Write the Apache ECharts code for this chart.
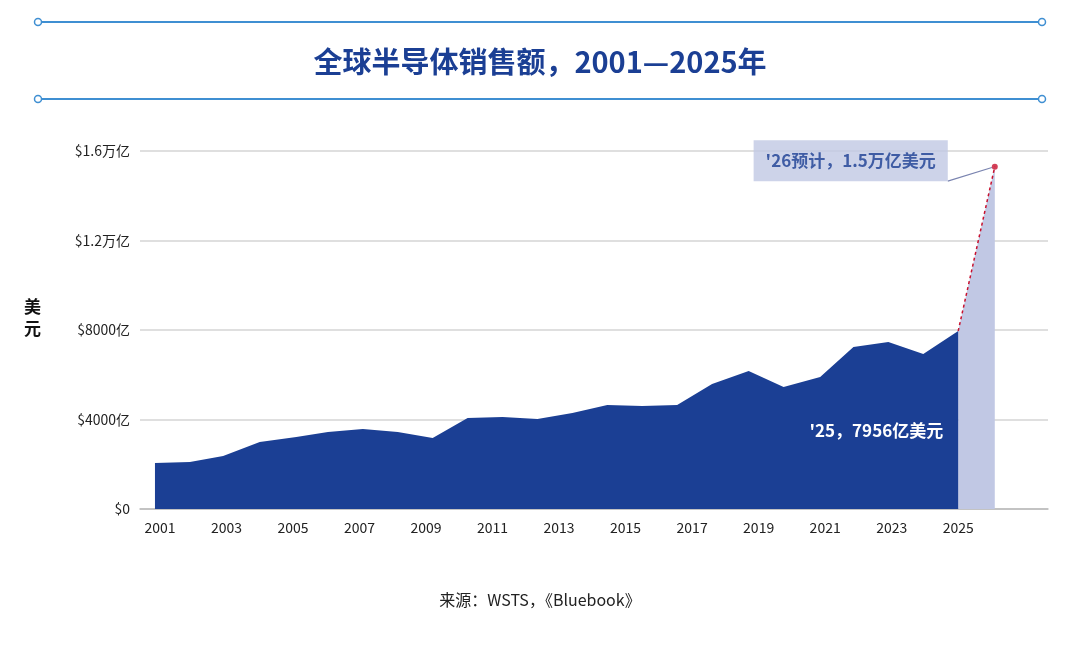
<!DOCTYPE html>
<html>
<head>
<meta charset="utf-8">
<script src="https://cdn.jsdelivr.net/npm/echarts@6/dist/echarts.min.js"></script>
<style>
	html, body { margin: 0; padding: 0; background: #fff; }
	#main { width: 1080px; height: 648px; }
</style>
</head>
<body>
<div id="main"></div>
<script>
// 年份位置（按图上点位读取）
var years = [2000.85, 2001.9, 2002.9, 2004.0, 2005.1, 2006.05, 2007.1, 2008.15, 2009.2, 2010.25,
	2011.3, 2012.35, 2013.4, 2014.45, 2015.5, 2016.55, 2017.6, 2018.7, 2019.75, 2020.85,
	2021.85, 2022.9, 2023.95, 2025.0];
// 销售额（亿美元）
var sales = [2056, 2100, 2369, 2994, 3218, 3441, 3575, 3441, 3173, 4067,
	4112, 4022, 4291, 4648, 4603, 4648, 5587, 6168, 5453, 5899,
	7240, 7464, 6927, 7956];
// 预计
var forecastYear = 2026.1;
var forecastValue = 15300;
var tickYears = [2001, 2003, 2005, 2007, 2009, 2011, 2013, 2015, 2017, 2019, 2021, 2023, 2025];
var yLabels = { 0: '$0', 4000: '$4000亿', 8000: '$8000亿', 12000: '$1.2万亿', 16000: '$1.6万亿' };

var font = '"Noto Sans CJK SC", "Noto Sans", sans-serif';
var darkBlue = '#1b3f94';
var lineBlue = '#3f8fd2';

var hist = [];
for (var i = 0; i < years.length; i++) {
	hist.push([years[i], sales[i]]);
}
var lastPt = hist[hist.length - 1];
var fc = [lastPt, [forecastYear, forecastValue]];

var myChart = echarts.init(document.getElementById('main'));

function decoLine(y) {
	return [
		{ type: 'line', shape: { x1: 42, y1: y, x2: 1038, y2: y }, style: { stroke: lineBlue, lineWidth: 2 } },
		{ type: 'circle', shape: { cx: 38, cy: y, r: 3.5 }, style: { fill: '#fff', stroke: lineBlue, lineWidth: 1.5 } },
		{ type: 'circle', shape: { cx: 1042, cy: y, r: 3.5 }, style: { fill: '#fff', stroke: lineBlue, lineWidth: 1.5 } }
	];
}

var option = {
	animation: false,
	textStyle: { fontFamily: font },
	title: {
		text: '全球半导体销售额，2001—2025年',
		left: 'center',
		top: 42,
		textStyle: { fontSize: 29, fontWeight: 'bold', color: darkBlue, fontFamily: font }
	},
	grid: { left: 140, right: 32, top: 151, bottom: 139 },
	xAxis: {
		type: 'value',
		min: 2000.4,
		max: 2027.7,
		axisLine: { show: true, lineStyle: { color: '#bbb', width: 1.5 } },
		axisTick: { show: false },
		splitLine: { show: false },
		axisLabel: {
			customValues: tickYears,
			color: '#222',
			fontSize: 14,
			margin: 12,
			formatter: function (v) { return String(Math.round(v)); }
		}
	},
	yAxis: {
		type: 'value',
		min: 0,
		max: 16000,
		interval: 4000,
		axisLine: { show: false },
		axisTick: { show: false },
		splitLine: { lineStyle: { color: '#d4d4d4', width: 1.5 } },
		axisLabel: {
			color: '#222',
			fontSize: 14,
			margin: 10,
			formatter: function (v) { return yLabels[v]; }
		}
	},
	series: [
		{
			type: 'line',
			data: fc,
			symbol: 'none',
			lineStyle: { color: '#c8102e', width: 1.5, type: [3, 3] },
			areaStyle: { color: '#c1c8e4', opacity: 1 },
			z: 2
		},
		{
			type: 'line',
			data: hist,
			symbol: 'none',
			lineStyle: { width: 0 },
			areaStyle: { color: darkBlue, opacity: 1 },
			z: 3,
			markPoint: {
				symbol: 'circle',
				symbolSize: 0,
				data: [{
					coord: lastPt,
					label: {
						show: true,
						formatter: "'25，7956亿美元",
						color: '#fff',
						fontWeight: 'bold',
						fontSize: 17,
						position: 'left',
						offset: [-10, 100]
					}
				}]
			}
		},
		{
			type: 'scatter',
			data: [[forecastYear, forecastValue]],
			symbolSize: 6,
			itemStyle: { color: '#c8102e' },
			z: 5,
			label: {
				show: true,
				position: 'left',
				distance: 44,
				offset: [0, -6],
				formatter: "'26预计，1.5万亿美元",
				color: darkBlue,
				fontWeight: 'bold',
				fontSize: 17,
				backgroundColor: '#c1c8e4',
				padding: [12, 12, 12, 12]
			},
			labelLine: { show: true, lineStyle: { color: '#7a84b0', width: 1.2 } }
		}
	],
	graphic: decoLine(22).concat(decoLine(99)).concat([
		{
			type: 'text', left: 24, top: 296,
			style: { text: '美\n元', font: 'bold 17px ' + font, fill: '#111', lineHeight: 22 }
		},
		{
			type: 'text', left: 'center', top: 592,
			style: { text: '来源：WSTS，《Bluebook》', font: '16px ' + font, fill: '#222' }
		}
	])
};
myChart.setOption(option);
</script>
</body>
</html>
